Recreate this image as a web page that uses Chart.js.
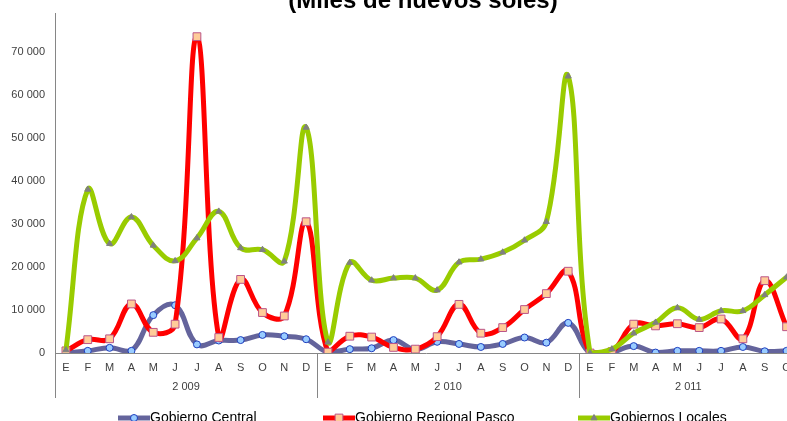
<!DOCTYPE html>
<html>
<head>
<meta charset="utf-8">
<script src="https://cdn.jsdelivr.net/npm/chart.js@4.4.1/dist/chart.umd.min.js"></script>
<style>
  body { margin: 0; background: #fff; }
  #marco { width: 787px; height: 421px; overflow: hidden; position: relative; }
</style>
</head>
<body>
<div id="marco"><canvas id="grafico" width="804" height="421"></canvas></div>
<script>
// Datos (miles de nuevos soles)
const meses = ['E', 'F', 'M', 'A', 'M', 'J', 'J', 'A', 'S', 'O', 'N', 'D'];
const anios = ['2 009', '2 010', '2 011'];
const mesesPorAnio = [12, 12, 10];
const marcasY = [0, 10000, 20000, 30000, 40000, 50000, 60000, 70000];

const gobiernoCentral = [0, 500, 1200, 500, 8800, 11100, 2000, 2900, 3000, 4200, 3900, 3200,
    200, 900, 1100, 3000, 800, 2600, 2100, 1400, 2100, 3600, 2400, 7000,
    0, 200, 1600, 100, 500, 500, 500, 1400, 400, 500];
const gobiernoRegional = [500, 3100, 3300, 11400, 4800, 6700, 73500, 3600, 17100, 9400, 8600, 30500,
    200, 3900, 3700, 1300, 900, 3800, 11300, 4600, 5900, 10100, 13800, 19000,
    0, 300, 6700, 6300, 6800, 5900, 7900, 3300, 16800, 6100];
const gobiernosLocales = [700, 38000, 25400, 31600, 25000, 21400, 26700, 32900, 24400, 24000, 21300, 52400,
    2500, 21000, 16900, 17400, 17400, 14600, 21100, 21800, 23400, 26200, 30500, 64300,
    0, 900, 4600, 7100, 10500, 7800, 9800, 9800, 13500, 17600];

const titulo = '(Miles de nuevos soles)';
const fuente = "'Liberation Sans', Arial, sans-serif";

// etiquetas del eje: meses de cada año
let etiquetas = [];
mesesPorAnio.forEach(n => { etiquetas = etiquetas.concat(meses.slice(0, n)); });

function separarMiles(v) {
    return String(v).replace(/\B(?=(\d{3})+(?!\d))/g, ' ');
}

// años, separadores, título y leyenda
const extras = {
    id: 'extras',
    afterDraw(chart) {
        const ctx = chart.ctx;
        const x = chart.scales.x;
        const area = chart.chartArea;
        ctx.save();

        // linea del eje Y prolongada y separadores de año
        ctx.strokeStyle = '#868686';
        ctx.lineWidth = 1;
        ctx.beginPath();
        ctx.moveTo(area.left + 0.5, area.bottom);
        ctx.lineTo(area.left + 0.5, 398);
        let inicio = 0;
        mesesPorAnio.forEach((n, i) => {
            const fin = inicio + n - 1;
            if (fin + 1 < etiquetas.length) {
                const sep = Math.round((x.getPixelForValue(fin) + x.getPixelForValue(fin + 1)) / 2) + 0.5;
                ctx.moveTo(sep, area.bottom);
                ctx.lineTo(sep, 398);
            }
            inicio += n;
        });
        ctx.stroke();

        ctx.fillStyle = '#404040';
        ctx.font = '11px ' + fuente;
        ctx.textAlign = 'center';
        ctx.textBaseline = 'middle';
        inicio = 0;
        mesesPorAnio.forEach((n, i) => {
            const centro = (x.getPixelForValue(inicio) + x.getPixelForValue(inicio + n - 1)) / 2;
            ctx.fillText(anios[i], centro, 387);
            inicio += n;
        });

        // título (cortado arriba como en la imagen)
        ctx.fillStyle = '#000';
        ctx.font = 'bold 24px ' + fuente;
        ctx.textBaseline = 'alphabetic';
        ctx.fillText(titulo, 423, 8);

        // leyenda
        const posiciones = [118, 323, 578];
        chart.data.datasets.forEach((ds, i) => {
            const x0 = posiciones[i];
            const y0 = 418;
            ctx.strokeStyle = ds.borderColor;
            ctx.lineWidth = 5;
            ctx.beginPath();
            ctx.moveTo(x0, y0);
            ctx.lineTo(x0 + 32, y0);
            ctx.stroke();
            ctx.fillStyle = ds.pointBackgroundColor;
            ctx.strokeStyle = ds.pointBorderColor;
            ctx.lineWidth = 1;
            Chart.helpers.drawPoint(ctx, {
                pointStyle: ds.pointStyle, radius: ds.pointRadius, borderWidth: 1, rotation: 0
            }, x0 + 16, y0);
            ctx.fillStyle = '#000';
            ctx.font = '14px ' + fuente;
            ctx.textAlign = 'left';
            ctx.textBaseline = 'middle';
            ctx.fillText(ds.label, x0 + 32, y0);
        });
        ctx.restore();
    }
};

const ctx = document.getElementById('grafico').getContext('2d');
new Chart(ctx, {
    type: 'line',
    data: {
        labels: etiquetas,
        datasets: [
            {
                label: 'Gobierno Central',
                data: gobiernoCentral,
                borderColor: '#64649c',
                borderWidth: 5,
                pointStyle: 'circle',
                pointRadius: 3.5,
                pointBackgroundColor: '#99ccff',
                pointBorderColor: '#1f3fbf',
                pointBorderWidth: 1,
                tension: 0.4,
                order: 3
            },
            {
                label: 'Gobierno Regional Pasco',
                data: gobiernoRegional,
                borderColor: '#ff0000',
                borderWidth: 5,
                pointStyle: 'rect',
                pointRadius: 5.5,
                pointBackgroundColor: '#ffcc99',
                pointBorderColor: '#bb5588',
                pointBorderWidth: 1,
                tension: 0.4,
                order: 2
            },
            {
                label: 'Gobiernos Locales',
                data: gobiernosLocales,
                borderColor: '#99cc00',
                borderWidth: 5,
                pointStyle: 'triangle',
                pointRadius: 3.5,
                pointBackgroundColor: '#808080',
                pointBorderColor: '#808080',
                pointBorderWidth: 1,
                tension: 0.4,
                order: 1
            }
        ]
    },
    options: {
        responsive: false,
        animation: false,
        layout: { padding: { top: 13, right: 3, left: 0, bottom: 0 } },
        plugins: {
            legend: { display: false },
            tooltip: { enabled: false },
            title: { display: false }
        },
        scales: {
            x: {
                offset: true,
                grid: { display: false, drawTicks: false },
                border: { display: true, color: '#868686', width: 1 },
                ticks: {
                    color: '#404040',
                    font: { family: fuente, size: 11 },
                    padding: 8,
                    maxRotation: 0,
                    autoSkip: false
                },
                afterFit(scale) { scale.height = 68; }
            },
            y: {
                min: 0,
                max: 79000,
                grid: { display: false, drawTicks: false },
                border: { display: true, color: '#868686', width: 1 },
                ticks: {
                    color: '#404040',
                    font: { family: fuente, size: 11 },
                    padding: 10,
                    autoSkip: false,
                    callback: v => separarMiles(v)
                },
                afterBuildTicks(scale) {
                    scale.ticks = marcasY.map(v => ({ value: v }));
                },
                afterFit(scale) {
                    scale.width = 55;
                    scale.paddingTop = 0;
                    scale.paddingBottom = 0;
                }
            }
        }
    },
    plugins: [extras]
});
</script>
</body>
</html>
